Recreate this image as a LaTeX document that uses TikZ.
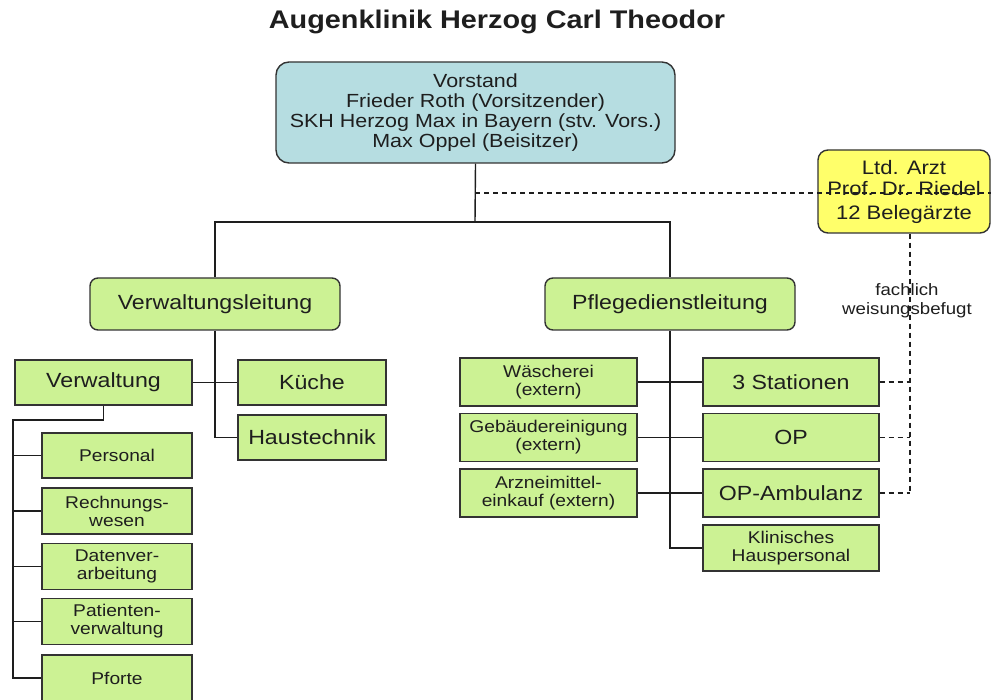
\documentclass[tikz,border=0pt]{standalone}
\usepackage{fontspec}
\setmainfont{Liberation Sans}[FakeStretch=1.13]
\usepackage{tikz}
\usetikzlibrary{positioning,calc}
\definecolor{boardbg}{HTML}{B6DDE1}
\definecolor{unitbg}{HTML}{CCF294}
\definecolor{docbg}{HTML}{FFFF6A}
\definecolor{frame}{HTML}{333333}
\definecolor{ink}{HTML}{1E1E1E}
\tikzset{
  unitbox/.style={draw=frame,fill=unitbg,line width=1.4pt,text=ink,
                  font=\fontsize{17}{18}\selectfont,align=center,inner sep=0pt},
  bigtext/.style={font=\fontsize{20.5}{22}\selectfont},
  leadbox/.style={unitbox,rounded corners=8pt,minimum width=250pt,
                  minimum height=52pt,font=\fontsize{20.5}{22}\selectfont},
  boardbox/.style={unitbox,fill=boardbg,rounded corners=13pt,
                   font=\fontsize{19}{20}\selectfont},
  doctorbox/.style={unitbox,fill=docbg,rounded corners=10pt,
                    font=\fontsize{19.5}{21}\selectfont},
  link/.style={draw=ink,line width=1.4pt},
  dashlink/.style={draw=ink,line width=1.2pt,dash pattern=on 5pt off 4pt},
}
\begin{document}
\begin{tikzpicture}[x=1pt,y=-1pt]
  \useasboundingbox (0,0) rectangle (993,700);
  \node[font=\fontsize{25.5}{28}\selectfont\bfseries,text=ink] (title)
    at (497,22) {Augenklinik Herzog Carl Theodor};
  % Vorstand und Belegaerzte
  \node[boardbox,minimum width=399pt,minimum height=101pt] (board)
    at (475.5,112.5) {Vorstand\\Frieder Roth (Vorsitzender)\\
    SKH Herzog Max in Bayern (stv. Vors.)\\Max Oppel (Beisitzer)};
  \node[doctorbox,minimum width=172pt,minimum height=83pt] (arzt)
    at (904,191.5) {Ltd. Arzt\\Prof. Dr. Riedel\\[3pt]12 Belegärzte};
  % Leitungen
  \node[leadbox] (vl) at (215,304) {Verwaltungsleitung};
  \node[leadbox] (pdl) at (670,304) {Pflegedienstleitung};
  % Verwaltung
  \node[unitbox,bigtext,minimum width=177pt,minimum height=45pt] (verw)
    at (103.5,382.5) {Verwaltung};
  \node[unitbox,bigtext,minimum width=148pt,minimum height=45pt] (kueche)
    at (312,382.5) {Küche};
  \node[unitbox,bigtext,minimum width=148pt,minimum height=45pt] (haus)
    at (312,437.5) {Haustechnik};
  \node[unitbox,minimum width=150pt,minimum height=45pt] (personal)
    at (117,455.5) {Personal};
  \node[unitbox,minimum width=150pt,minimum height=46pt] (rechnung)
    at (117,511) {Rechnungs-\\wesen};
  \node[unitbox,minimum width=150pt,minimum height=46pt] (daten)
    at (117,566.5) {Datenver-\\arbeitung};
  \node[unitbox,minimum width=150pt,minimum height=46pt] (patient)
    at (117,621.5) {Patienten-\\verwaltung};
  \node[unitbox,minimum width=150pt,minimum height=46pt] (pforte)
    at (117,678) {Pforte};
  % Pflegedienst
  \node[unitbox,minimum width=177pt,minimum height=48pt] (waesche)
    at (548.5,382) {Wäscherei\\(extern)};
  \node[unitbox,minimum width=177pt,minimum height=48pt] (gebaeude)
    at (548.5,437.5) {Gebäudereinigung\\(extern)};
  \node[unitbox,minimum width=177pt,minimum height=48pt] (arznei)
    at (548.5,493) {Arzneimittel-\\einkauf (extern)};
  \node[unitbox,bigtext,minimum width=176pt,minimum height=48pt] (stat)
    at (791,382) {3 Stationen};
  \node[unitbox,bigtext,minimum width=176pt,minimum height=48pt] (op)
    at (791,437.5) {OP};
  \node[unitbox,bigtext,minimum width=176pt,minimum height=48pt] (opamb)
    at (791,493) {OP-Ambulanz};
  \node[unitbox,minimum width=176pt,minimum height=46pt] (klin)
    at (791,548) {Klinisches\\Hauspersonal};
  % Verbindungen
  \coordinate (split) at (475,222);
  \coordinate (djoin) at (475,193);
  \coordinate (dend) at (910,493);
  \coordinate (vspine) at (13,420);
  \draw[link] (board.south) -- (split);
  \draw[link] (vl.north) |- (split) -| (pdl.north);
  \draw[link] (vl.south) |- (haus.west);
  \draw[link] (verw.east) -- (kueche.west);
  \draw[link] (verw.south) |- (vspine) |- (pforte.west);
  \draw[link] (vspine |- personal.west) -- (personal.west);
  \draw[link] (vspine |- rechnung.west) -- (rechnung.west);
  \draw[link] (vspine |- daten.west) -- (daten.west);
  \draw[link] (vspine |- patient.west) -- (patient.west);
  \draw[link] (pdl.south) |- (klin.west);
  \draw[link] (waesche.east) -- (stat.west);
  \draw[link] (gebaeude.east) -- (op.west);
  \draw[link] (arznei.east) -- (opamb.west);
  % fachliche Weisung
  \draw[dashlink] (djoin) -- (djoin -| arzt.east);
  \draw[dashlink] (arzt.south -| dend) -- (dend);
  \draw[dashlink] (stat.east) -- (stat.east -| dend);
  \draw[dashlink] (op.east) -- (op.east -| dend);
  \draw[dashlink] (opamb.east) -- (dend);
  \node[font=\fontsize{16.5}{19}\selectfont,text=ink,align=center] (weisung)
    at (907,301) {fachlich\\weisungsbefugt};
\end{tikzpicture}
\end{document}
